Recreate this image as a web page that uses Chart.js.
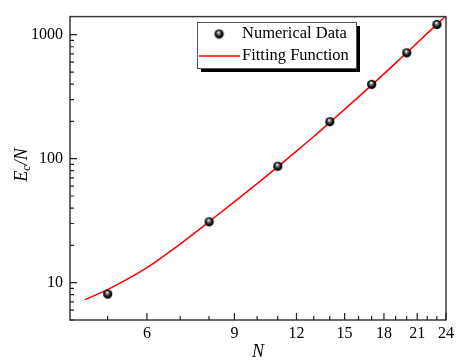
<!DOCTYPE html>
<html>
<head>
<style>
  html, body { margin: 0; padding: 0; background: #fff; }
  #wrap { width: 458px; height: 361px; }
</style>
</head>
<body>
<div id="wrap"><canvas id="myChart" width="458" height="361"></canvas></div>

<script src="https://cdn.jsdelivr.net/npm/chart.js"></script>
<script>
// numerical data
const nValues = [5, 8, 11, 14, 17, 20, 23];
const ecValues = [8.1, 31, 87, 199, 398, 714, 1210];

// fitting function
const fitN = [4.5, 5, 6, 7, 8, 9, 10, 11, 12, 13, 14, 15, 16, 17, 18, 19, 20, 21, 22, 23, 24];
const fitValues = [7.3, 8.8, 13.2, 20.5, 31, 45, 63, 86, 115, 151, 196, 250, 315, 392, 483, 590, 715, 860, 1025, 1210, 1420];

// tick labels
const xTickValues = [6, 9, 12, 15, 18, 21, 24];
const xMinorTicks = [5, 7, 8, 10, 11, 13, 14, 16, 17, 19, 20, 22, 23];
const yTickValues = [10, 100, 1000];
const yMinorTicks = [5, 6, 7, 8, 9, 20, 30, 40, 50, 60, 70, 80, 90, 200, 300, 400, 500, 600, 700, 800, 900];

const serif = '"Liberation Serif", "Times New Roman", serif';

// shaded sphere marker
function makeSphere(r) {
    const c = document.createElement('canvas');
    c.width = c.height = r * 2 + 2;
    const g = c.getContext('2d');
    const cx = r + 1, cy = r + 1;
    const grad = g.createRadialGradient(cx - r * 0.15, cy - r * 0.4, 0.3, cx, cy, r);
    grad.addColorStop(0, '#ffffff');
    grad.addColorStop(0.3, '#777777');
    grad.addColorStop(0.65, '#111111');
    grad.addColorStop(1, '#000000');
    g.fillStyle = grad;
    g.beginPath();
    g.arc(cx, cy, r, 0, Math.PI * 2);
    g.fill();
    return c;
}
const sphere = makeSphere(4.6);

// frame, inside ticks, axis titles and legend
const decorations = {
    id: 'decorations',
    afterDraw(chart) {
        const ctx = chart.ctx;
        const a = chart.chartArea;
        const xs = chart.scales.x, ys = chart.scales.y;
        ctx.save();
        ctx.strokeStyle = '#3a3a3a';
        ctx.lineWidth = 1.5;
        ctx.strokeRect(a.left, a.top, a.right - a.left, a.bottom - a.top);

        ctx.lineWidth = 1.2;
        ctx.strokeStyle = '#222';
        ctx.beginPath();
        xTickValues.forEach(v => {
            const px = xs.getPixelForValue(v);
            ctx.moveTo(px, a.bottom); ctx.lineTo(px, a.bottom - 7);
        });
        xMinorTicks.forEach(v => {
            const px = xs.getPixelForValue(v);
            ctx.moveTo(px, a.bottom); ctx.lineTo(px, a.bottom - 4);
        });
        yTickValues.forEach(v => {
            const py = ys.getPixelForValue(v);
            ctx.moveTo(a.left, py); ctx.lineTo(a.left + 7, py);
        });
        yMinorTicks.forEach(v => {
            const py = ys.getPixelForValue(v);
            ctx.moveTo(a.left, py); ctx.lineTo(a.left + 4, py);
        });
        ctx.stroke();

        // axis titles
        ctx.fillStyle = '#000';
        ctx.font = 'italic 18px ' + serif;
        ctx.textAlign = 'center';
        ctx.textBaseline = 'middle';
        ctx.fillText('N', (a.left + a.right) / 2, 352);

        ctx.save();
        ctx.translate(22, 165);
        ctx.rotate(-Math.PI / 2);
        ctx.textAlign = 'left';
        ctx.font = 'italic 18px ' + serif;
        const wE = ctx.measureText('E').width;
        ctx.font = 'italic 12px ' + serif;
        const wc = ctx.measureText('c').width;
        ctx.font = 'italic 18px ' + serif;
        const wN = ctx.measureText('/N').width;
        let x0 = -(wE + wc + wN) / 2;
        ctx.fillText('E', x0, 0);
        ctx.font = 'italic 12px ' + serif;
        ctx.fillText('c', x0 + wE, 5);
        ctx.font = 'italic 18px ' + serif;
        ctx.fillText('/N', x0 + wE + wc, 0);
        ctx.restore();

        // legend
        const lx = 197, ly = 22, lw = 159, lh = 46;
        ctx.fillStyle = '#000';
        ctx.fillRect(lx + 4, ly + 4, lw, lh);
        ctx.fillStyle = '#fff';
        ctx.fillRect(lx, ly, lw, lh);
        ctx.strokeStyle = '#555';
        ctx.lineWidth = 1;
        ctx.strokeRect(lx + 0.5, ly + 0.5, lw, lh);
        ctx.drawImage(sphere, 219 - sphere.width / 2, 34 - sphere.height / 2);
        ctx.strokeStyle = '#ff0000';
        ctx.lineWidth = 1.5;
        ctx.beginPath();
        ctx.moveTo(199, 56); ctx.lineTo(240, 56);
        ctx.stroke();
        ctx.fillStyle = '#000';
        ctx.font = '16.5px ' + serif;
        ctx.textAlign = 'left';
        ctx.fillText('Numerical Data', 242, 34);
        ctx.fillText('Fitting Function', 242, 56);
        ctx.restore();
    }
};

let ctx = document.getElementById('myChart').getContext('2d');
let chart = new Chart(ctx, {
    type: 'scatter',
    data: {
        datasets: [{
            label: 'Numerical Data',
            data: nValues.map((n, i) => ({ x: n, y: ecValues[i] })),
            pointStyle: sphere,
            pointRadius: 4.6,
            order: 1
        }, {
            label: 'Fitting Function',
            type: 'line',
            data: fitN.map((n, i) => ({ x: n, y: fitValues[i] })),
            borderColor: '#ff0000',
            borderWidth: 1.5,
            pointRadius: 0,
            cubicInterpolationMode: 'monotone',
            fill: false,
            order: 2
        }]
    },
    options: {
        responsive: false,
        animation: false,
        layout: { padding: { top: 15, right: 8, left: 0, bottom: 0 } },
        plugins: { legend: { display: false }, tooltip: { enabled: false } },
        scales: {
            x: {
                type: 'logarithmic',
                min: 4.2,
                max: 24,
                afterBuildTicks: s => { s.ticks = xTickValues.map(v => ({ value: v })); },
                afterFit: s => { s.height = 41; },
                grid: { display: false, drawTicks: false },
                border: { display: false },
                ticks: {
                    color: '#000',
                    font: { family: serif, size: 16 },
                    padding: 4,
                    maxRotation: 0,
                    autoSkip: false,
                    callback: v => String(v)
                }
            },
            y: {
                type: 'logarithmic',
                min: 5,
                max: 1400,
                afterBuildTicks: s => { s.ticks = yTickValues.map(v => ({ value: v })); },
                afterFit: s => { s.width = 70; },
                grid: { display: false, drawTicks: false },
                border: { display: false },
                ticks: {
                    color: '#000',
                    font: { family: serif, size: 16 },
                    padding: 7,
                    autoSkip: false,
                    callback: v => String(v)
                }
            }
        }
    },
    plugins: [decorations]
});
</script>
</body>
</html>
